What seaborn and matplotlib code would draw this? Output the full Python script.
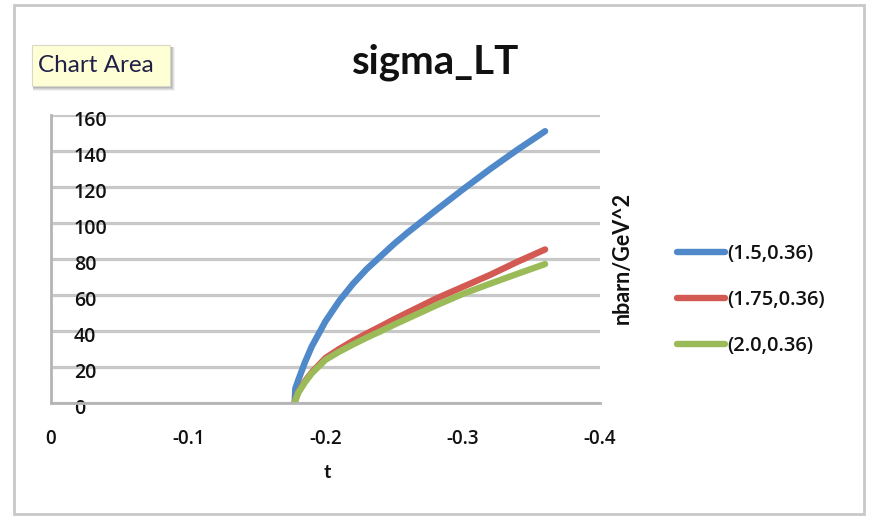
import matplotlib
matplotlib.use("Agg")
import matplotlib.pyplot as plt
import matplotlib.patches as mpatches
import matplotlib.transforms as mtransforms
import pandas as pd
import seaborn as sns

# Momentum transfer t (GeV^2) and cross sections (nbarn/GeV^2)
t_values = [-0.1775, -0.178, -0.18, -0.185, -0.19, -0.20, -0.21, -0.22, -0.23, -0.24,
            -0.25, -0.26, -0.28, -0.30, -0.32, -0.34, -0.36]
sigma_15 = [0, 8, 12.4, 22.6, 31.4, 45.4, 56.7, 66.2, 74.4, 81.4,
            88.4, 94.8, 106.8, 118.6, 130, 140.8, 151]
sigma_175 = [0, 1.5, 5.8, 12, 17, 25, 30, 34.5, 38.6, 42.5,
             46.5, 50.3, 57.8, 64.5, 71.2, 78.5, 85.3]
sigma_20 = [0, 1.3, 5.5, 11.5, 16.5, 24, 28.5, 32.5, 36.3, 39.8,
            43.5, 47, 54, 60.6, 66.3, 71.8, 77.2]
series_labels = ["(1.5,0.36)", "(1.75,0.36)", "(2.0,0.36)"]
x_ticks = [0, -0.1, -0.2, -0.3, -0.4]
x_tick_labels = ["0", "-0.1", "-0.2", "-0.3", "-0.4"]
y_ticks = [0, 20, 40, 60, 80, 100, 120, 140, 160]

df = pd.concat([
    pd.DataFrame({"t": t_values, "sigma": vals, "series": lab})
    for vals, lab in zip([sigma_15, sigma_175, sigma_20], series_labels)
])

sns.set_theme(style="white")
plt.rcParams["font.family"] = ["Lato", "DejaVu Sans"]
label_font = ["Open Sans", "DejaVu Sans"]

W, H = 869, 516
fig = plt.figure(figsize=(W / 100, H / 100), dpi=100)
fig.patch.set_facecolor("white")


def fx(x):
    return x / W


def fy(y):
    return 1 - y / H


# chart-area frame
fig.add_artist(mpatches.Rectangle((fx(14), fy(514)), fx(864) - fx(14), fy(5) - fy(514),
                                  transform=fig.transFigure, fill=False,
                                  edgecolor="#c8c8c8", linewidth=2.0))

# plot area
L, R, T, B = 51, 600, 115, 403
ax = fig.add_axes([fx(L), fy(B), fx(R) - fx(L), fy(T) - fy(B)])

palette = {"(1.5,0.36)": "#5089C9", "(1.75,0.36)": "#D35A52", "(2.0,0.36)": "#9BBB59"}
sns.lineplot(data=df, x="t", y="sigma", hue="series", palette=palette,
             linewidth=4.6, ax=ax, legend=False, sort=False)
for line in ax.get_lines():
    line.set_solid_capstyle("round")
    line.set_solid_joinstyle("round")

ax.set_xlim(0, -0.4)
ax.set_ylim(0, 160)
ax.set_xticks(x_ticks)
ax.set_xticklabels(x_tick_labels)
ax.set_yticks(y_ticks)
ax.yaxis.grid(True, color="#c8c8c8", linewidth=2.3, zorder=0)
ax.xaxis.grid(False)
ax.set_axisbelow(True)
for side in ["top", "right"]:
    ax.spines[side].set_visible(False)
for side in ["left", "bottom"]:
    ax.spines[side].set_color("#b4b4b4")
    ax.spines[side].set_linewidth(2.0)

ax.tick_params(axis="y", length=0, pad=-16.5, labelsize=14, labelcolor="#111111")
ax.tick_params(axis="x", length=0, pad=19, labelsize=13.5, labelcolor="#111111")
shift = mtransforms.ScaledTranslation(0, -0.03, fig.dpi_scale_trans)
for lbl in ax.get_yticklabels():
    lbl.set_horizontalalignment("left")
    lbl.set_family(label_font)
    lbl.set_fontweight("semibold")
    lbl.set_transform(lbl.get_transform() + shift)
    lbl.set_zorder(5)
for lbl in ax.get_xticklabels():
    lbl.set_family(label_font)
    lbl.set_fontweight("semibold")

ax.set_xlabel("")
ax.set_ylabel("")
fig.text(fx(327), fy(472), "t", ha="center", va="center", fontsize=14,
         fontweight="bold", color="#111111")
fig.text(fx(622), fy(258), "nbarn/GeV^2", ha="center", va="center", rotation=90,
         fontsize=15.5, fontweight="bold", color="#111111")
fig.text(fx(436), fy(62), "sigma_LT", ha="center", va="center", fontsize=29,
         fontweight="bold", color="#111111")

# legend
handles = [plt.Line2D([], [], color=palette[s], linewidth=4.6, solid_capstyle="round")
           for s in series_labels]
leg = fig.legend(handles, series_labels, loc="center left",
                 bbox_to_anchor=(fx(677), fy(300)), frameon=False,
                 prop={"family": label_font, "size": 14.5, "weight": "semibold"},
                 handlelength=2.4, handletextpad=0.1, labelspacing=1.3,
                 borderaxespad=0, borderpad=0)
for txt in leg.get_texts():
    txt.set_color("#111111")

# "Chart Area" hover label
bx0, by0, bx1, by1 = 32, 45, 170, 86
for k, a in [(5, 0.05), (4, 0.07), (3, 0.09), (2, 0.1)]:
    fig.add_artist(mpatches.Rectangle((fx(bx0 + 1), fy(by1 + k)), fx(bx1 + k) - fx(bx0 + 1),
                                      fy(by0 + 2) - fy(by1 + k),
                                      transform=fig.transFigure, facecolor="black",
                                      edgecolor="none", alpha=a))
fig.add_artist(mpatches.Rectangle((fx(bx0), fy(by1)), fx(bx1) - fx(bx0), fy(by0) - fy(by1),
                                  transform=fig.transFigure, facecolor="#FFFFD6",
                                  edgecolor="#d8d8c8", linewidth=0.8))
fig.text(fx(38), fy(66), "Chart Area", ha="left", va="center", fontsize=17.5,
         color="#202048")

fig.savefig("out.png", dpi=100)
